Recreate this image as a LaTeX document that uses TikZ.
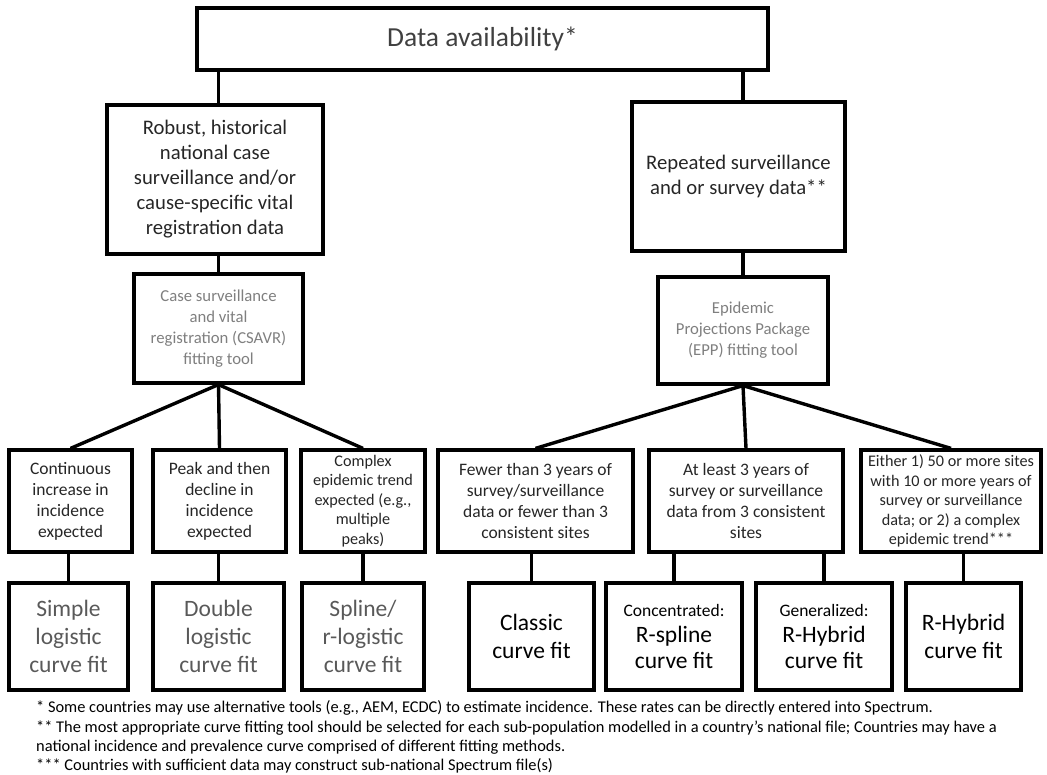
\documentclass[tikz,border=0pt]{standalone}
\usepackage{fontspec}
\setmainfont{Carlito}

\definecolor{donker}{HTML}{262626}
\definecolor{middengrijs}{HTML}{404040}
\definecolor{lichtgrijs}{HTML}{7F7F7F}
\definecolor{fitgrijs}{HTML}{595959}

\begin{document}
\begin{tikzpicture}[x=1pt,y=-1pt,
  vak/.style={draw,line width=3.2pt,align=center,inner sep=0pt},
  lijn/.style={line width=3.4pt},
  voetnoot/.style={anchor=west,inner sep=0pt,font=\fontsize{16.4}{19}\selectfont}]

  \useasboundingbox (0,0) rectangle (1047,775);

  % bovenste niveau
  \node[vak,minimum width=571,minimum height=62,text=middengrijs,
    font=\fontsize{27.5}{30}\selectfont] (top) at (482.5,39) {Data availability*};

  % gegevensbronnen
  \node[vak,minimum width=216,minimum height=149,text=donker,
    font=\fontsize{20.7}{25}\selectfont] (robust) at (215,179.5)
    {Robust, historical\\national case\\surveillance and/or\\cause-specific vital\\registration data};
  \node[vak,minimum width=213,minimum height=149,text=donker,
    font=\fontsize{20.7}{24.5}\selectfont] (repeated) at (738.5,176.5)
    {Repeated surveillance\\and or survey data**};

  % fitting tools
  \node[vak,minimum width=169,minimum height=109,text=lichtgrijs,
    font=\fontsize{16.7}{21}\selectfont] (csavr) at (218.5,328.5)
    {Case surveillance\\and vital\\registration (CSAVR)\\fitting tool};
  \node[vak,minimum width=170,minimum height=107,text=lichtgrijs,
    font=\fontsize{16.7}{21}\selectfont] (epp) at (743,330.5)
    {Epidemic\\Projections Package\\(EPP) fitting tool};

  % verwachte trends
  \node[vak,minimum width=123,minimum height=102,text=donker,
    font=\fontsize{17.5}{21}\selectfont] (m1) at (70.5,501)
    {Continuous\\increase in\\incidence\\expected};
  \node[vak,minimum width=133,minimum height=102,text=donker,
    font=\fontsize{17.5}{21}\selectfont] (m2) at (219.5,501)
    {Peak and then\\decline in\\incidence\\expected};
  \node[vak,minimum width=124,minimum height=102,text=donker,
    font=\fontsize{16.2}{19.5}\selectfont] (m3) at (363,501)
    {Complex\\epidemic trend\\expected (e.g.,\\multiple\\peaks)};
  \node[vak,minimum width=195,minimum height=102,text=donker,
    font=\fontsize{17.5}{21}\selectfont] (m4) at (535.5,501)
    {Fewer than 3 years of\\survey/surveillance\\data or fewer than 3\\consistent sites};
  \node[vak,minimum width=194,minimum height=102,text=donker,
    font=\fontsize{17.5}{21}\selectfont] (m5) at (746,501)
    {At least 3 years of\\survey or surveillance\\data from 3 consistent\\sites};
  \node[vak,minimum width=180,minimum height=102,text=donker,
    font=\fontsize{16.2}{19.5}\selectfont] (m6) at (951,501)
    {Either 1) 50 or more sites\\with 10 or more years of\\survey or surveillance\\data; or 2) a complex\\epidemic trend***};

  % curve fits
  \node[vak,minimum width=119,minimum height=107,text=fitgrijs,
    font=\fontsize{23.5}{28}\selectfont] (b1) at (68.5,636.5)
    {Simple\\logistic\\curve fit};
  \node[vak,minimum width=131,minimum height=107,text=fitgrijs,
    font=\fontsize{23.5}{28}\selectfont] (b2) at (218.5,636.5)
    {Double\\logistic\\curve fit};
  \node[vak,minimum width=122,minimum height=107,text=fitgrijs,
    font=\fontsize{23.5}{28}\selectfont] (b3) at (363,636.5)
    {Spline/\\r-logistic\\curve fit};
  \node[vak,minimum width=125,minimum height=107,text=black,
    font=\fontsize{23.5}{28}\selectfont] (b4) at (531.5,636.5)
    {Classic\\curve fit};
  \node[vak,minimum width=136,minimum height=107,text=black,
    font=\fontsize{23.5}{26}\selectfont] (b5) at (674,636.5)
    {{\fontsize{17.5}{25}\selectfont Concentrated:}\\R-spline\\curve fit};
  \node[vak,minimum width=136,minimum height=107,text=black,
    font=\fontsize{23.5}{26}\selectfont] (b6) at (824,636.5)
    {{\fontsize{17.5}{25}\selectfont Generalized:}\\R-Hybrid\\curve fit};
  \node[vak,minimum width=115,minimum height=107,text=black,
    font=\fontsize{23.5}{28}\selectfont] (b7) at (963.5,636.5)
    {R-Hybrid\\curve fit};

  % verbindingen
  \draw[lijn] (top.south -| csavr.north) -- (robust.north -| csavr.north);
  \draw[lijn] (top.south -| epp.north) -- (repeated.north -| epp.north);
  \draw[lijn] (robust.south -| csavr.north) -- (csavr.north);
  \draw[lijn] (repeated.south -| epp.north) -- (epp.north);
  \foreach \n in {m1,m2,m3}
    \draw[lijn] (csavr.south) -- (\n.north);
  \foreach \n in {m4,m5,m6}
    \draw[lijn] (epp.south) -- (\n.north);
  \draw[lijn] (m1.south -| b1.north) -- (b1.north);
  \draw[lijn] (m2.south -| b2.north) -- (b2.north);
  \draw[lijn] (m3.south) -- (b3.north);
  \draw[lijn] (m4.south -| b4.north) -- (b4.north);
  \draw[lijn] (m5.south -| b5.north) -- (b5.north);
  \draw[lijn] (m5.south -| b6.north) -- (b6.north);
  \draw[lijn] (m6.south -| b7.north) -- (b7.north);

  % voetnoten
  \node[voetnoot] (fn1) at (36,708) {* Some countries may use alternative tools (e.g., AEM, ECDC) to estimate incidence. These rates can be directly entered into Spectrum.};
  \node[voetnoot] (fn2) at (36,728) {** The most appropriate curve fitting tool should be selected for each sub-population modelled in a country’s national file; Countries may have a};
  \node[voetnoot] (fn3) at (36,747) {national incidence and prevalence curve comprised of different fitting methods.};
  \node[voetnoot] (fn4) at (36,766) {*** Countries with sufficient data may construct sub-national Spectrum file(s)};

\end{tikzpicture}
\end{document}
